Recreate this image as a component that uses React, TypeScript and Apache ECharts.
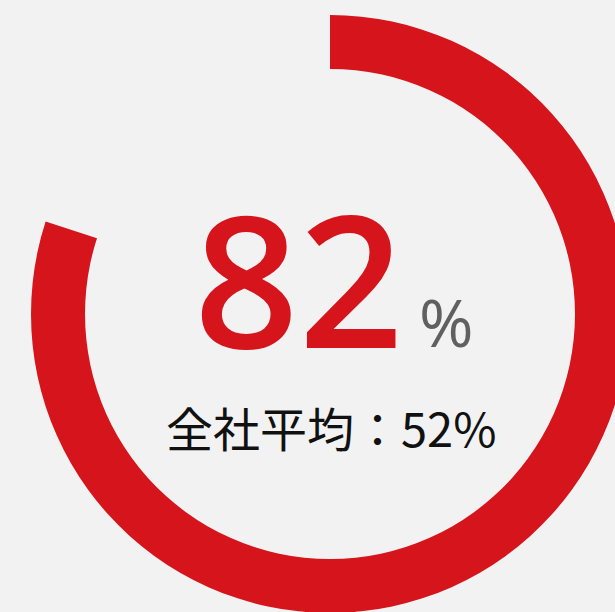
import React, { useEffect, useRef } from "react";
import * as echarts from "echarts";

const ringValues = [80, 20];
const mainValueText = "82";
const unitText = "%";
const averageText = "全社平均：52%";

export default function App() {
  const ref = useRef<HTMLDivElement>(null);
  useEffect(() => {
    document.body.style.margin = "0";
    const chart = echarts.init(ref.current!, undefined, { renderer: "svg" });
    chart.setOption({
      animation: false,
      backgroundColor: "#f2f2f2",
      series: [
        {
          type: "pie",
          center: [330, 314],
          radius: [245, 299],
          startAngle: 90,
          clockwise: true,
          silent: true,
          label: { show: false },
          labelLine: { show: false },
          emphasis: { disabled: true },
          data: [
            { value: ringValues[0], itemStyle: { color: "#d6141c" } },
            { value: ringValues[1], itemStyle: { color: "rgba(0,0,0,0)" } },
          ],
        },
      ],
      graphic: [
        {
          type: "text",
          left: 194,
          top: 185,
          style: {
            text: mainValueText,
            fill: "#d6141c",
            font: "600 183px 'Open Sans'",
            lineHeight: 150,
          },
        },
        {
          type: "text",
          left: 419,
          top: 288,
          style: {
            text: unitText,
            fill: "#606060",
            font: "66px 'Open Sans'",
          },
        },
        {
          type: "text",
          left: 166,
          top: 403,
          style: {
            text: averageText,
            fill: "#111111",
            font: "47px 'Noto Sans CJK JP'",
          },
        },
      ],
    });
    return () => chart.dispose();
  }, []);
  return <div ref={ref} style={{ width: 615, height: 612 }} />;
}
